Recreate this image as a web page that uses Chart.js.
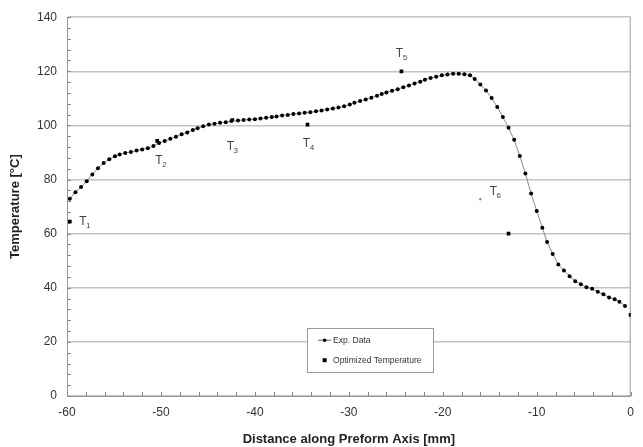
<!DOCTYPE html>
<html>
<head>
<meta charset="utf-8">
<script src="https://cdn.jsdelivr.net/npm/chart.js@4"></script>
<style>
  html, body { margin: 0; padding: 0; background: #fff; }
  #wrap { width: 643px; height: 447px; position: relative; }
</style>
</head>
<body>
<div id="wrap"><canvas id="c" width="643" height="447"></canvas></div>
<script>
// ---- data ----
const expX = [-59.7,-59.1,-58.5,-57.9,-57.3,-56.7,-56.1,-55.5,-54.9,-54.4,-53.8,-53.2,-52.6,-52.0,-51.4,-50.8,-50.2,-49.6,-49.0,-48.4,-47.8,-47.2,-46.6,-46.1,-45.5,-44.9,-44.3,-43.7,-43.1,
  -42.5,-41.8,-41.2,-40.6,-40.0,-39.4,-38.8,-38.2,-37.7,-37.1,-36.5,-35.9,-35.3,-34.7,-34.1,-33.5,-32.9,-32.3,-31.7,-31.1,-30.5,-29.9,-29.4,-28.8,-28.2,-27.6,-27.0,
  -26.5,-26.0,-25.4,-24.8,-24.2,-23.6,-23.0,-22.4,-21.9,-21.3,-20.7,-20.1,-19.5,-18.9,-18.3,-17.7,-17.1,-16.6,-16.0,-15.4,-14.8,-14.2,-13.6,-13.0,-12.4,-11.8,-11.2,-10.6,-10.0,
  -9.4,-8.9,-8.3,-7.7,-7.1,-6.5,-5.9,-5.3,-4.7,-4.1,-3.5,-2.9,-2.3,-1.7,-1.2,-0.6];
const expY = [72.9,75.3,77.2,79.4,81.9,84.2,86.1,87.5,88.6,89.3,89.8,90.2,90.7,91.1,91.6,92.4,93.5,94.2,95.1,95.8,96.7,97.4,98.3,99.0,99.7,100.3,100.6,101.0,101.2,
  101.6,101.8,102.0,102.2,102.3,102.6,102.8,103.1,103.3,103.7,103.9,104.2,104.4,104.7,104.9,105.2,105.5,105.9,106.3,106.6,107.1,107.7,108.4,109.0,109.6,110.2,111.0,
  111.6,112.2,112.8,113.4,114.1,114.8,115.5,116.1,116.9,117.5,118.0,118.5,118.8,119.1,119.1,118.9,118.5,117.2,115.1,112.9,110.1,106.8,103.1,99.1,94.7,88.7,82.2,74.8,68.4,
  62.2,56.9,52.5,48.6,46.4,44.3,42.4,41.3,40.2,39.6,38.5,37.6,36.4,35.8,34.8,33.3];

const optX = [-59.7,-50.4,-42.4,-34.4,-24.4,-16.0,-13.0,0.0];
const optY = [64.5,94.3,102.0,100.3,120.0,72.7,60.0,30.0];

const labelMain = ['T','T','T','T','T','T'];
const labelSub  = ['1','2','3','4','5','6'];
const labelX = [-58.7,-50.6,-43.0,-34.9,-25.0,-15.0];
const labelY = [64.3,87.1,92.0,93.2,126.5,75.4];

const xTicks = [-60,-50,-40,-30,-20,-10,0];
const yTicks = [0,20,40,60,80,100,120,140];

const seriesNames = ['Exp. Data','Optimized Temperature'];
const xTitle = 'Distance along Preform Axis [mm]';
const yTitle = 'Temperature [°C]';

// per-point marker sizes for the optimized set (style, not data)
const optRadius = [2.6,2.6,2.6,2.6,2.6,1.5,2.6,2.6];
const optColor  = ['#000','#000','#000','#000','#000','#777','#000','#000'];

const FONT = "'Liberation Sans', Arial, sans-serif";

const expPts = expX.map((x,i)=>({x, y: expY[i]}));
const optPts = optX.map((x,i)=>({x, y: optY[i]}));

const extras = {
  id: 'extras',
  beforeDatasetsDraw(chart) {
    const {ctx, chartArea: a, scales: {x, y}} = chart;
    ctx.save();
    ctx.strokeStyle = '#999';
    ctx.lineWidth = 1;
    // right border
    ctx.beginPath();
    ctx.moveTo(a.right - 0.5, a.top);
    ctx.lineTo(a.right - 0.5, a.bottom);
    ctx.stroke();
    // inner minor ticks
    ctx.strokeStyle = '#888';
    ctx.beginPath();
    for (let v = -60; v <= 0; v += 2) {
      const px = Math.round(x.getPixelForValue(v)) + 0.5;
      ctx.moveTo(px, a.bottom);
      ctx.lineTo(px, a.bottom - 4);
    }
    for (let v = 0; v <= 140; v += 4) {
      const py = Math.round(y.getPixelForValue(v)) + 0.5;
      ctx.moveTo(a.left, py);
      ctx.lineTo(a.left + 4, py);
    }
    ctx.stroke();
    ctx.restore();
  },
  afterDatasetsDraw(chart) {
    const {ctx, chartArea: a, scales: {x, y}} = chart;
    ctx.save();
    // T labels
    ctx.fillStyle = '#444';
    ctx.textBaseline = 'middle';
    ctx.textAlign = 'left';
    for (let i = 0; i < labelMain.length; i++) {
      const px = x.getPixelForValue(labelX[i]);
      const py = y.getPixelForValue(labelY[i]);
      ctx.font = '12px ' + FONT;
      ctx.fillText(labelMain[i], px, py);
      const w = ctx.measureText(labelMain[i]).width;
      ctx.font = '8px ' + FONT;
      ctx.fillText(labelSub[i], px + w - 0.5, py + 4);
    }
    // legend box
    const W = a.right - a.left, H = a.bottom - a.top;
    const lx = a.left + W * 0.426, ty = a.top + H * 0.821;
    const rx = a.left + W * 0.649, by = a.top + H * 0.937;
    ctx.fillStyle = '#fff';
    ctx.fillRect(lx, ty, rx - lx, by - ty);
    ctx.strokeStyle = '#999';
    ctx.lineWidth = 1;
    ctx.strokeRect(Math.round(lx) + 0.5, Math.round(ty) + 0.5, Math.round(rx - lx), Math.round(by - ty));
    const y1 = ty + 12, y2 = ty + 32;
    // exp marker
    ctx.strokeStyle = '#666';
    ctx.beginPath();
    ctx.moveTo(lx + 11, y1); ctx.lineTo(lx + 24, y1); ctx.stroke();
    ctx.fillStyle = '#000';
    ctx.beginPath(); ctx.arc(lx + 17.5, y1, 1.8, 0, Math.PI * 2); ctx.fill();
    // opt marker
    ctx.fillRect(lx + 15.5, y2 - 2, 4, 4);
    ctx.fillStyle = '#333';
    ctx.font = '8.5px ' + FONT;
    ctx.fillText(seriesNames[0], lx + 26, y1);
    ctx.fillText(seriesNames[1], lx + 26, y2);
    ctx.restore();
  }
};

new Chart(document.getElementById('c'), {
  type: 'scatter',
  data: {
    datasets: [
      {
        label: seriesNames[0],
        data: expPts,
        showLine: true,
        borderColor: '#8a8a8a',
        borderWidth: 1,
        pointRadius: 2,
        pointBackgroundColor: '#000',
        pointBorderWidth: 0,
        tension: 0
      },
      {
        label: seriesNames[1],
        data: optPts,
        showLine: false,
        pointStyle: 'rect',
        pointRadius: optRadius,
        pointBackgroundColor: optColor,
        pointBorderWidth: 0
      }
    ]
  },
  options: {
    responsive: false,
    animation: false,
    layout: { padding: { top: 17, right: 3, left: 0, bottom: 0 } },
    plugins: { legend: { display: false }, tooltip: { enabled: false } },
    scales: {
      x: {
        type: 'linear',
        min: -60, max: 0,
        afterBuildTicks: s => { s.ticks = xTicks.map(v => ({value: v})); },
        afterFit: s => { s.height = 51; },
        grid: { display: false, drawTicks: false },
        border: { display: true, color: '#999', width: 1 },
        ticks: { color: '#333', font: { family: FONT, size: 12 }, padding: 9, maxRotation: 0 },
        title: { display: true, text: xTitle, color: '#222', font: { family: FONT, size: 13, weight: 'bold' }, padding: { top: 3, bottom: 0 } }
      },
      y: {
        type: 'linear',
        min: 0, max: 140,
        afterBuildTicks: s => { s.ticks = yTicks.map(v => ({value: v})); },
        afterFit: s => { s.width = 67; },
        grid: { color: '#c4c4c4', lineWidth: 1.5, drawTicks: false },
        border: { display: true, color: '#999', width: 1 },
        ticks: { color: '#333', font: { family: FONT, size: 12 }, padding: 10 },
        title: { display: true, text: yTitle, color: '#222', font: { family: FONT, size: 13, weight: 'bold' }, padding: { top: 8, bottom: 0 } }
      }
    }
  },
  plugins: [extras]
});
</script>
</body>
</html>
